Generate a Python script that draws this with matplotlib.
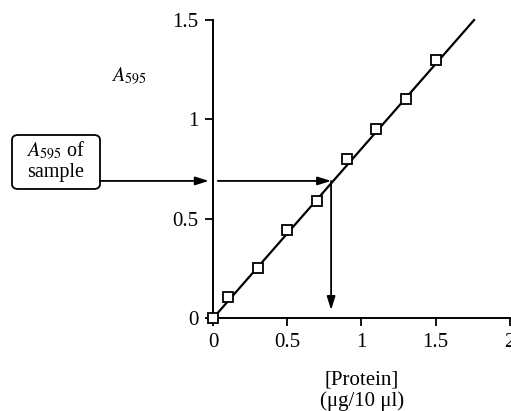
import matplotlib
matplotlib.use("Agg")
import matplotlib.pyplot as plt
from matplotlib.patches import FancyBboxPatch

plt.rcParams['font.family'] = ['Liberation Serif', 'DejaVu Serif']
plt.rcParams['mathtext.fontset'] = 'stix'

# Data
protein = [0.0, 0.1, 0.3, 0.5, 0.7, 0.9, 1.1, 1.3, 1.5]
absorbance = [0.0, 0.105, 0.25, 0.445, 0.59, 0.80, 0.95, 1.10, 1.30]
fit_x = [0.0, 1.76]
fit_y = [0.0, 1.50]
sample_a = 0.69
sample_conc = 0.795
xticks = [0, 0.5, 1, 1.5, 2]
xticklabels = ['0', '0.5', '1', '1.5', '2']
yticks = [0, 0.5, 1, 1.5]
yticklabels = ['0', '0.5', '1', '1.5']

fig = plt.figure(figsize=(5.11, 4.11), dpi=100)
ax = fig.add_axes([0.4174, 0.2263, 0.58, 0.725])
ax.set_xlim(0, 2)
ax.set_ylim(0, 1.5)

ax.plot(fit_x, fit_y, color='black', lw=1.6, clip_on=False, zorder=3)
ax.plot(protein, absorbance, ls='none', marker='s', ms=7, mfc='white',
        mec='black', mew=1.3, clip_on=False, zorder=4)

for s in ['top', 'right']:
    ax.spines[s].set_visible(False)
for s in ['left', 'bottom']:
    ax.spines[s].set_linewidth(1.4)
ax.set_xticks(xticks)
ax.set_xticklabels(xticklabels)
ax.set_yticks(yticks)
ax.set_yticklabels(yticklabels)
ax.tick_params(axis='both', direction='out', length=5.5, width=1.3,
               labelsize=15, pad=5)

arrow_kw = dict(arrowstyle='-|>,head_length=0.8,head_width=0.25', color='black', lw=1.3,
                shrinkA=0, shrinkB=0)
# arrow from box to y axis
ax.annotate('', xy=(-0.03, sample_a), xytext=(-0.765, sample_a),
            xycoords='data', textcoords='data', arrowprops=arrow_kw,
            annotation_clip=False)
# arrow from y axis to line
ax.annotate('', xy=(sample_conc, sample_a), xytext=(0.03, sample_a),
            arrowprops=arrow_kw, annotation_clip=False)
# vertical arrow down to x axis
ax.annotate('', xy=(sample_conc, 0.04), xytext=(sample_conc, sample_a),
            arrowprops=arrow_kw, annotation_clip=False)

# Box
box = FancyBboxPatch((12 / 511, (411 - 189) / 411), 88 / 511, 54 / 411,
                     boxstyle='round,pad=0,rounding_size=0.012',
                     transform=fig.transFigure, fc='white', ec='black', lw=1.3)
fig.patches.append(box)
fig.text(56 / 511, (411 - 161) / 411, '$\\mathit{A}_{595}$ of\nsample',
         ha='center', va='center', fontsize=14.5, linespacing=1.05)

fig.text(129 / 511, (411 - 76) / 411, '$\\mathit{A}_{595}$', ha='center',
         va='center', fontsize=14.5)

fig.text(362 / 511, (411 - 391) / 411, '[Protein]\n(μg/10 μl)', ha='center',
         va='center', fontsize=15, linespacing=1.1)

fig.savefig('out.png', dpi=100)
